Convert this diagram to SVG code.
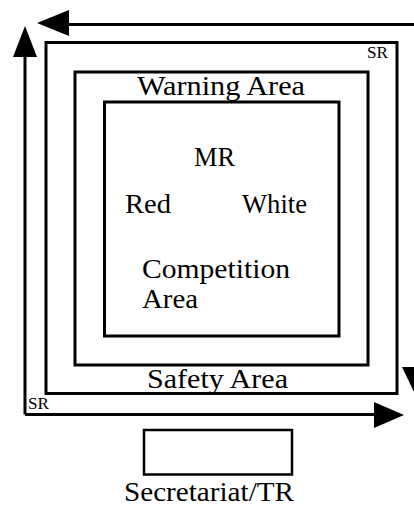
<svg xmlns="http://www.w3.org/2000/svg" width="414" height="506" viewBox="0 0 414 506">
<style>
.box{fill:none;stroke:#000;stroke-width:3}
.sbox{fill:none;stroke:#000;stroke-width:2.5}
.ln{fill:none;stroke:#000;stroke-width:3}
.hd{fill:#000;stroke:none}
text{fill:#000}
.t{font-size:27px}
.s{font-size:16px}
</style>
<rect width="414" height="506" fill="#fff"/>
<g id="connectors">
<path class="ln" d="M416,24.5 H68"/>
<polygon class="hd" points="37,23 69,10 69,36"/>
<path class="ln" d="M416,24.5 V368"/>
<polygon class="hd" points="402,367 429,367 415.5,395"/>
<path class="ln" d="M25,414.5 H376"/>
<polygon class="hd" points="374,402 374,428 404,415"/>
<path class="ln" d="M25,414.5 V56"/>
<polygon class="hd" points="25,26 13,57 37,57"/>
</g>
<g font-family="'Liberation Serif', 'Times New Roman', Times, serif">
<g id="sr-area">
<rect class="box" x="46" y="42.5" width="351" height="351"/>
<text class="s" x="367" y="58" textLength="21" lengthAdjust="spacingAndGlyphs">SR</text>
<text class="s" x="28" y="409" textLength="21" lengthAdjust="spacingAndGlyphs">SR</text>
</g>
<g id="safety-area">
<rect class="box" x="75" y="72" width="293" height="293"/>
<text class="t" x="137" y="95" textLength="168" lengthAdjust="spacingAndGlyphs">Warning Area</text>
<text class="t" x="147" y="388" textLength="141" lengthAdjust="spacingAndGlyphs">Safety Area</text>
</g>
<g id="competition-area">
<rect class="box" x="104.5" y="102" width="234.5" height="234"/>
<text class="t" x="194" y="166" textLength="41" lengthAdjust="spacingAndGlyphs">MR</text>
<text class="t" x="125" y="213" textLength="46" lengthAdjust="spacingAndGlyphs">Red</text>
<text class="t" x="242" y="213" textLength="65" lengthAdjust="spacingAndGlyphs">White</text>
<text class="t" x="142" y="278" textLength="148" lengthAdjust="spacingAndGlyphs">Competition</text>
<text class="t" x="142" y="308" textLength="56" lengthAdjust="spacingAndGlyphs">Area</text>
</g>
<g id="secretariat">
<rect class="sbox" x="144" y="430" width="148" height="44.5"/>
<text class="t" x="124" y="500.5" textLength="170" lengthAdjust="spacingAndGlyphs">Secretariat/TR</text>
</g>
</g>
</svg>
